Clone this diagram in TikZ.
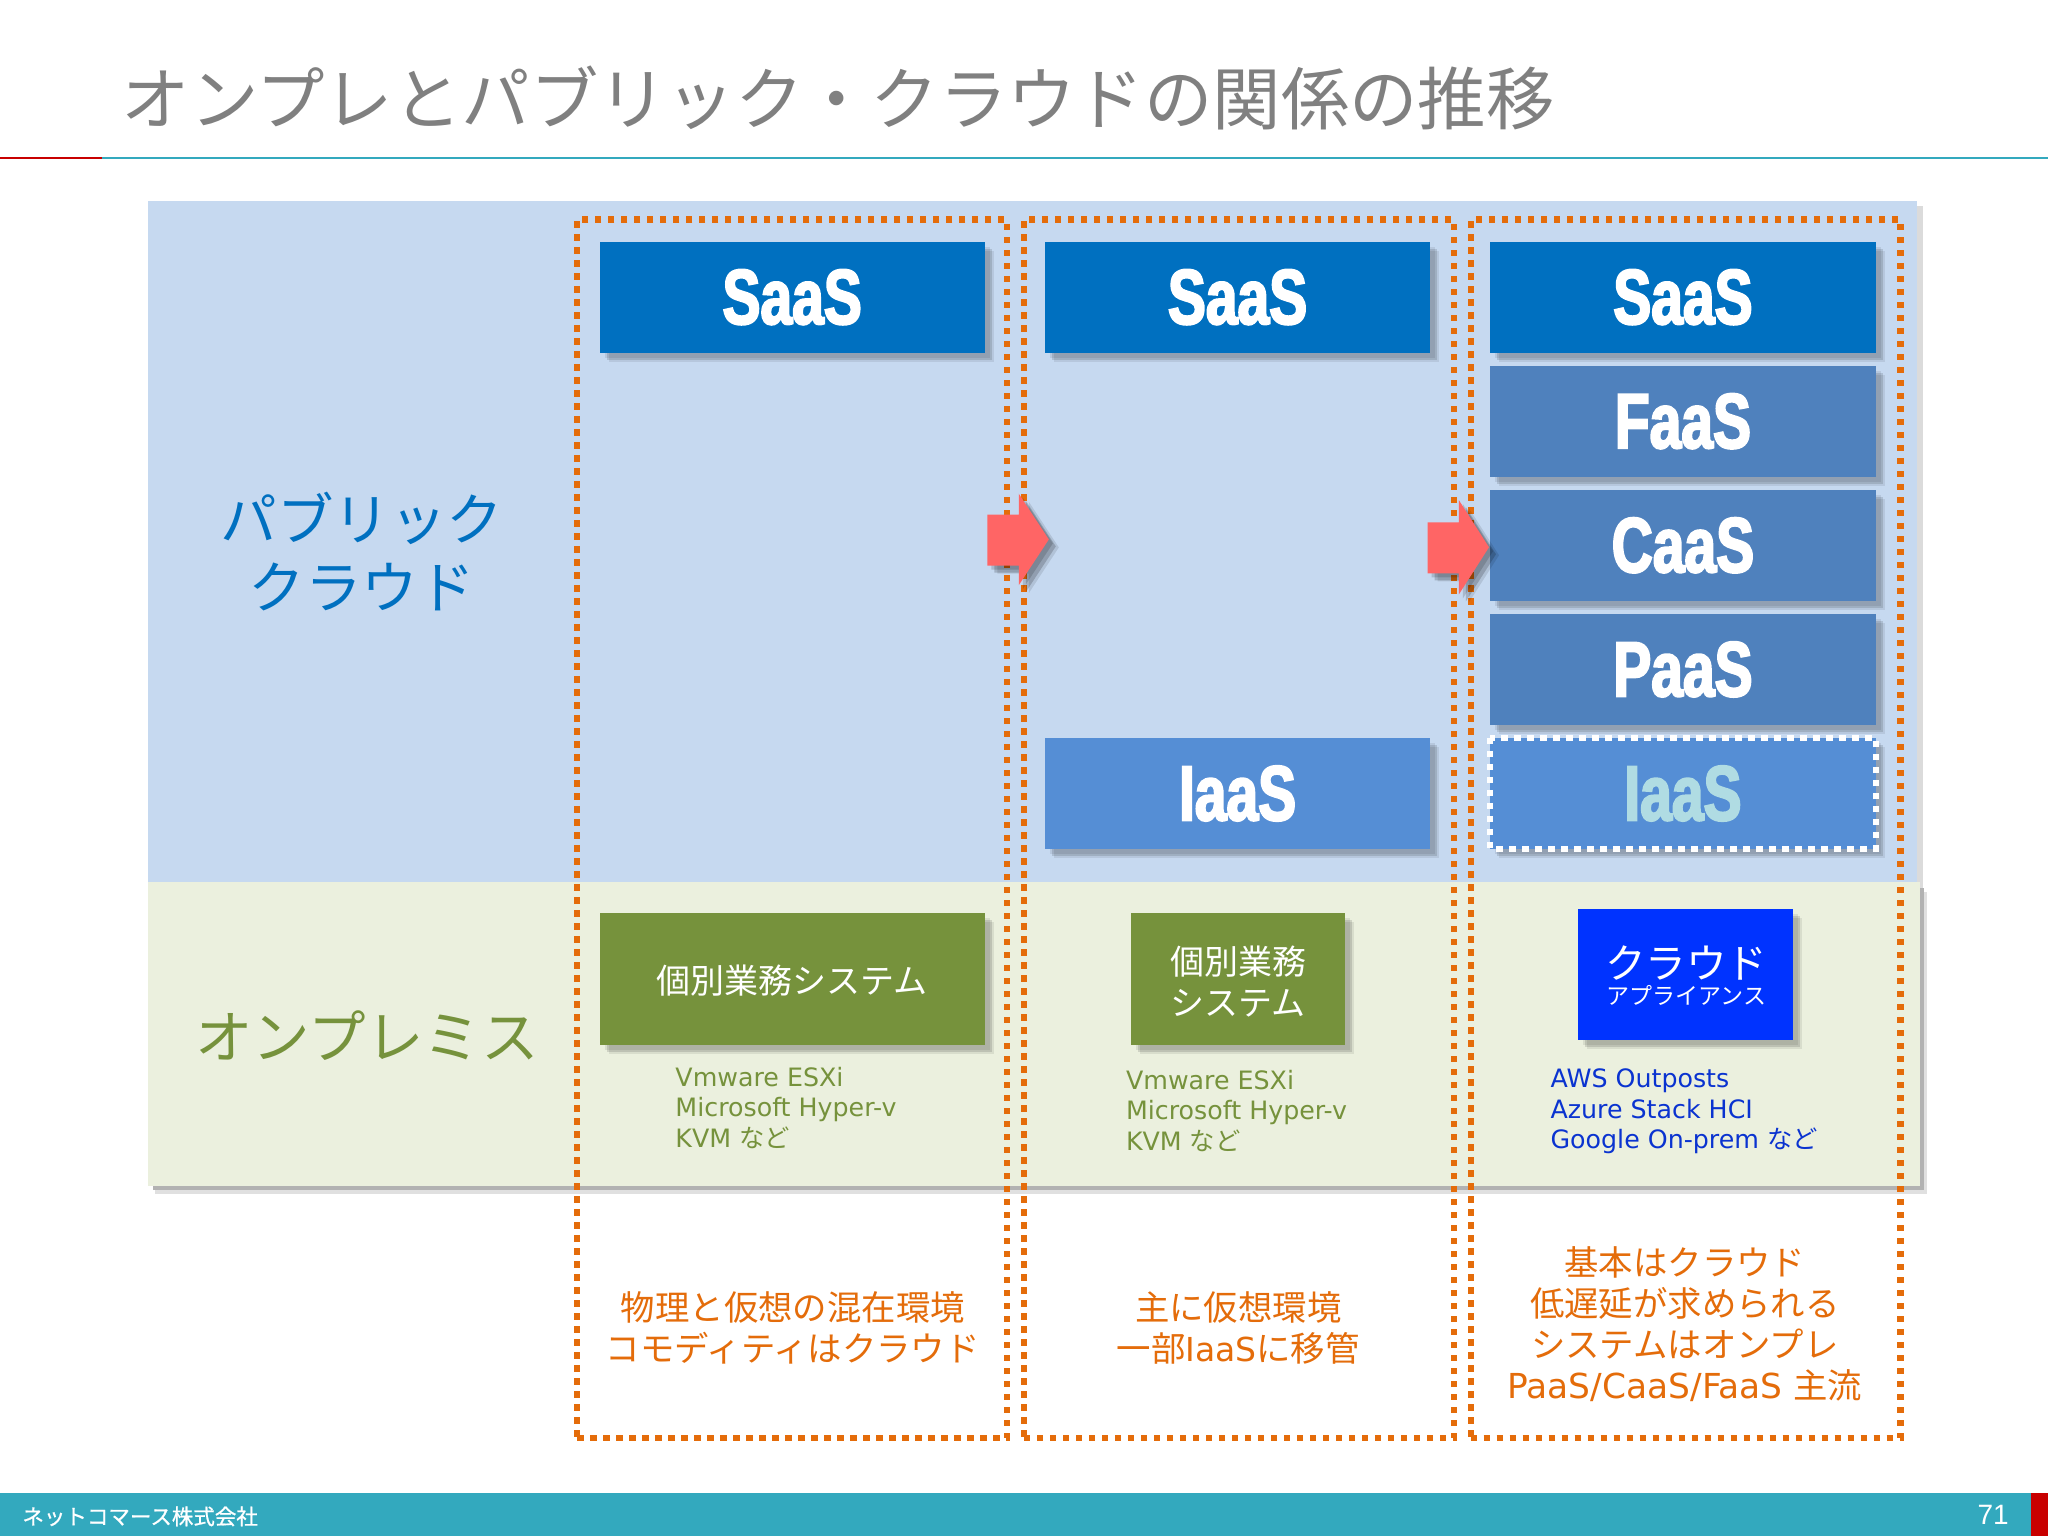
\documentclass[tikz,border=0pt]{standalone}
\usepackage{fontspec}
\usetikzlibrary{shadows}
\setmainfont{DejaVu Sans}
\newfontfamily\jp{Noto Sans CJK JP}
\newfontfamily\jpb[FakeBold=0.8]{Noto Sans CJK JP}
\newfontfamily\hv[BoldFont={Liberation Sans Bold},BoldFeatures={FakeStretch=0.73,FakeBold=2.6}]{Liberation Sans}
\newfontfamily\num{Liberation Sans}
\definecolor{bluebg}{HTML}{C6D9F0}
\definecolor{greenbg}{HTML}{EBF0DE}
\definecolor{teal}{HTML}{33A9BE}
\definecolor{redbar}{HTML}{C80000}
\definecolor{orng}{HTML}{E46C0A}
\definecolor{saas}{HTML}{0070C0}
\definecolor{mid}{HTML}{4F81BD}
\definecolor{iaas}{HTML}{558ED5}
\definecolor{olive}{HTML}{76923C}
\definecolor{appl}{HTML}{0033FF}
\definecolor{pink}{HTML}{FF6565}
\definecolor{iaastxt}{HTML}{B0DCE3}
\definecolor{listblue}{HTML}{0A33D0}
\tikzset{
  softshadow/.style={
    general shadow={shadow xshift=5pt,shadow yshift=-5pt,fill=black,opacity=.08},
    general shadow={shadow xshift=7pt,shadow yshift=-7pt,fill=black,opacity=.12},
    general shadow={shadow xshift=9pt,shadow yshift=-9pt,fill=black,opacity=.08}},
  pagebox/.style={inner sep=0pt,outer sep=0pt,rectangle},
  svc/.style={pagebox,softshadow,text=white,font=\hv\bfseries\fontsize{78}{80}\selectfont},
  onprem/.style={pagebox,softshadow},
  boxtext/.style={inner sep=0pt,text=white,align=center},
  dotbox/.style={pagebox,draw=orng,line width=6.2pt,dash pattern=on 6.2pt off 6.8pt},
  small/.style={inner sep=0pt,anchor=west,align=left,font=\fontsize{25.3}{30.5}\selectfont},
  note/.style={inner sep=0pt,align=center,text=orng,font=\jp\fontsize{34.4}{41}\selectfont},
  arrowshape/.style={fill=pink,
    general shadow={shadow xshift=4pt,shadow yshift=-4pt,fill=black,opacity=.15},
    general shadow={shadow xshift=7pt,shadow yshift=-7pt,fill=black,opacity=.18},
    general shadow={shadow xshift=10pt,shadow yshift=-8pt,fill=black,opacity=.1}},
}
% \pbox[style]{name}{x1}{y1}{x2}{y2}{text}
\newcommand{\pbox}[7][]{\node[pagebox,#1,minimum width={(#5-#3)*1.30612pt},minimum height={(#6-#4)*1.30612pt}] (#2) at ({(#3+#5)/2},{(#4+#6)/2}) {#7};}
\begin{document}
\begin{tikzpicture}[x=1.30612pt,y=-1.30612pt]
\useasboundingbox (0,0) rectangle (1568,1176);
\fill[white] (0,0) rectangle (1568,1176);
% header
\node[inner sep=0pt,text=black!50,font=\jp\fontsize{68.4}{80}\selectfont,anchor=west] (title) at (93,75) {オンプレとパブリック・クラウドの関係の推移};
\pbox[fill=redbar]{rulered}{0}{120}{78}{122}{}
\pbox[fill=teal]{ruleteal}{78}{120.4}{1568}{122}{}
% bands
\fill[black!12] (119,683) rectangle (1475,914);
\fill[black!30] (117,680) rectangle (1473,911);
\fill[black!14] (1460,158) rectangle (1472,680);
\pbox[fill=bluebg]{public}{113}{154}{1468}{675}{}
\pbox[fill=greenbg]{onpremband}{113}{675}{1470}{908}{}
% footer
\pbox[fill=teal]{footer}{0}{1143}{1568}{1176}{}
\pbox[fill=redbar]{footred}{1555}{1143}{1568}{1176}{}
\node[inner sep=0pt,text=white,font=\jpb\fontsize{21.5}{24}\selectfont,anchor=west] (company) at (17,1161) {ネットコマース株式会社};
\node[inner sep=0pt,text=white,font=\num\fontsize{28}{30}\selectfont] (pageno) at (1526,1160) {71};
% row labels
\node[inner sep=0pt,align=center,text=saas,font=\jp\fontsize{56.5}{68}\selectfont] (lpublic) at (277,422) {パブリック\\クラウド};
\node[inner sep=0pt,text=olive,font=\jp\fontsize{57.5}{60}\selectfont] (lonprem) at (281,793) {オンプレミス};
% dotted columns
\pbox[dotbox]{col1}{442}{168}{771}{1101}{}
\pbox[dotbox]{col2}{784}{168}{1113}{1101}{}
\pbox[dotbox]{col3}{1126}{168}{1455}{1101}{}
% service boxes
\pbox[svc,fill=saas]{s1}{459}{185}{754}{270}{SaaS}
\pbox[svc,fill=saas]{s2}{800}{185}{1095}{270}{SaaS}
\pbox[svc,fill=saas]{s3}{1141}{185}{1436}{270}{SaaS}
\pbox[svc,fill=mid]{f3}{1141}{280}{1436}{365}{FaaS}
\pbox[svc,fill=mid]{c3}{1141}{375}{1436}{460}{CaaS}
\pbox[svc,fill=mid]{p3}{1141}{470}{1436}{555}{PaaS}
\pbox[svc,fill=iaas]{i2}{800}{565}{1095}{650}{IaaS}
\pbox[svc,fill=iaas,text=iaastxt]{i3}{1141}{565}{1436}{650}{IaaS}
\draw[white,line width=6pt,dash pattern=on 6.5pt off 6.5pt] (i3.north west) rectangle (i3.south east);
% on-premises boxes
\pbox[onprem,fill=olive]{o1}{459}{699}{754}{800}{}
\pbox[onprem,fill=olive]{o2}{866}{699}{1030}{800}{}
\pbox[onprem,fill=appl]{o3}{1208}{696}{1373}{796}{}
\node[boxtext,font=\jp\fontsize{34}{41}\selectfont] (o1t) at (606.5,751) {個別業務システム};
\node[boxtext,font=\jp\fontsize{34}{41}\selectfont] (o2t) at (948,751.5) {個別業務\\システム};
\node[boxtext,font=\jp\fontsize{40.6}{40}\selectfont] (o3a) at (1291,737) {クラウド};
\node[boxtext,font=\jp\fontsize{23}{26}\selectfont] (o3b) at (1291,762) {アプライアンス};
% small lists
\node[small,text=olive] (t1) at (517,848) {Vmware ESXi\\Microsoft Hyper-v\\KVM {\jp など}};
\node[small,text=olive] (t2) at (862,850.5) {Vmware ESXi\\Microsoft Hyper-v\\KVM {\jp など}};
\node[small,text=listblue] (t3) at (1187,851) {AWS Outposts\\Azure Stack HCI\\Google On-prem {\jp など}};
% notes
\node[note] (n1) at (607,1017) {物理と仮想の混在環境\\コモディティはクラウド};
\node[note] (n2) at (948,1017) {主に仮想環境\\一部{\rmfamily\fontsize{33}{41}\selectfont IaaS}に移管};
\node[note] (n3) at (1290,1013.5) {基本はクラウド\\低遅延が求められる\\システムはオンプレ\\{\rmfamily\fontsize{34.4}{41}\selectfont PaaS/CaaS/FaaS }主流};
% transition arrows
\path[arrowshape] (756,394) -- (780,394) -- (780,378) -- (803,413) -- (780,448) -- (780,433) -- (756,433) -- cycle;
\path[arrowshape] (1093,400) -- (1117,400) -- (1117,383) -- (1140,419) -- (1117,455) -- (1117,439) -- (1093,439) -- cycle;
\end{tikzpicture}
\end{document}
